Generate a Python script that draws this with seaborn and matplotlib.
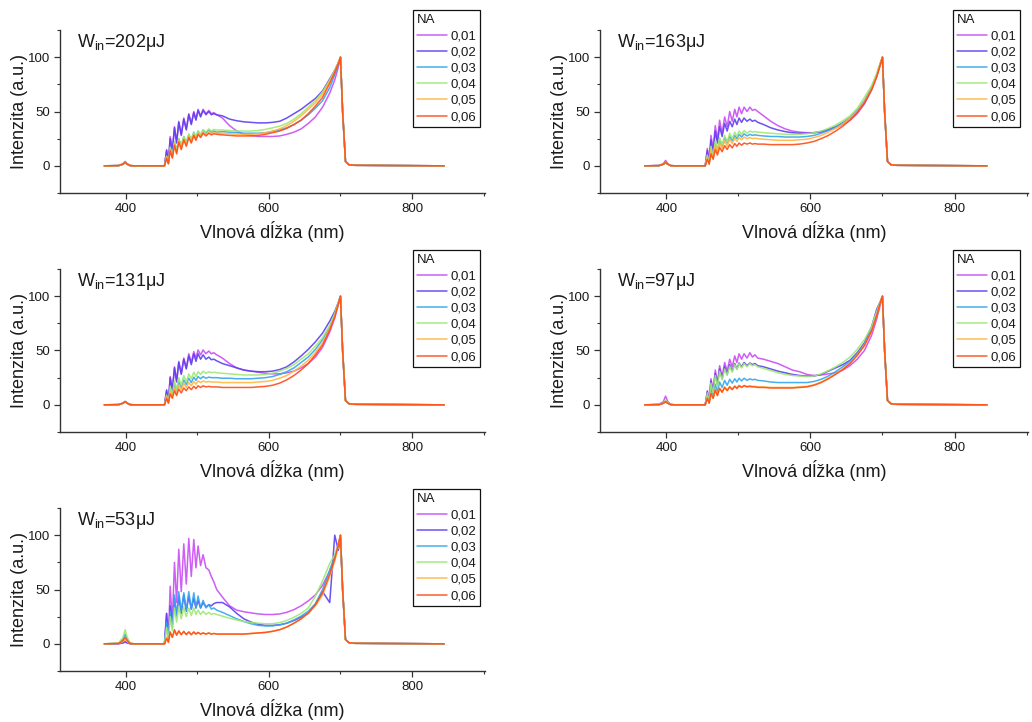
import matplotlib
matplotlib.use("Agg")
import matplotlib.pyplot as plt
import pandas as pd
import seaborn as sns

# Shared wavelength grid (nm)
WAVELENGTH = [370, 390, 396, 399, 402, 406, 412,
              454, 457, 459.5, 462, 465, 468, 471, 474, 477.5, 481, 484.5, 488,
              491.5, 495, 498, 501, 504.5, 508, 512, 516, 519.5, 523, 527,
              535, 545, 555, 565, 575, 585, 595, 605, 615, 625, 635, 645, 655,
              665, 675, 685, 692, 697, 700, 703, 707, 712, 720, 845]

NA_LABELS = ["0,01", "0,02", "0,03", "0,04", "0,05", "0,06"]
NA_COLORS = ["#c94cf5", "#5b3ff0", "#33a6ee", "#9fe872", "#ffb640", "#ff4b17"]
PULSE_ENERGY = ["202", "163", "131", "97", "53"]

# Normalised spectra, one row per NA value
SPEC_202 = [
    [0, 0.3, 2, 4, 2, 0.3, 0, 0, 15, 4, 27, 15, 36, 22, 41, 29, 44, 34, 48, 39, 50, 43, 52, 46, 52, 48, 51, 48, 49, 47,
     44, 37, 32, 29, 28, 27, 27, 27, 27.5, 29, 31, 34, 39, 45, 54, 67, 79, 91, 100, 50, 4, 1, 0.5, 0],
    [0, 0.2, 1.5, 3, 1.5, 0.2, 0, 0, 14, 3, 25, 13, 35, 21, 40, 28, 43, 33, 47, 38, 49, 42, 51, 45, 51, 47, 50, 47, 48, 47,
     46, 43, 41.5, 40.5, 40, 39.5, 39.5, 40, 41, 44, 48, 52, 57, 62, 69, 80, 88, 95, 100, 50, 4, 1, 0.5, 0],
    [0, 0.2, 1.5, 3, 1.5, 0.2, 0, 0, 9, 2, 17, 9, 22, 14, 25, 18, 27, 21, 29, 24, 31, 26, 32, 28, 33, 30, 33, 31, 32, 31,
     31.5, 31, 30.5, 30, 30, 30, 30.5, 31.5, 33, 35, 38, 42, 47, 53, 60, 72, 84, 93, 100, 50, 4, 1, 0.5, 0],
    [0, 0.2, 1.5, 3, 1.5, 0.2, 0, 0, 9, 2, 17, 9, 22, 14, 25, 18, 27, 21, 29, 24, 31, 27, 32, 29, 33, 31, 34, 32, 33.5, 33,
     33, 32.5, 32, 32, 32, 32.5, 33.5, 35, 36.5, 39, 43, 48, 54, 60, 68, 79, 88, 95, 100, 50, 4, 1, 0.5, 0],
    [0, 0.2, 1.5, 3, 1.5, 0.2, 0, 0, 8, 2, 15, 8, 20, 12, 23, 16, 25, 19, 27, 22, 29, 24, 30, 27, 31, 28.5, 31, 29.5, 30.5, 30,
     30, 29.5, 29, 29, 29, 29.5, 30.5, 32, 34, 37, 41, 46, 52, 58, 66, 78, 87, 95, 100, 50, 4, 1, 0.5, 0],
    [0, 0.2, 1.5, 3, 1.5, 0.2, 0, 0, 7, 2, 14, 7, 19, 11, 22, 15, 24, 18, 26, 21, 28, 23.5, 29, 26, 30, 27.5, 30, 28.5, 29.5, 29,
     28.5, 28, 27.5, 27.5, 27.5, 28, 29, 30.5, 32, 34.5, 38, 42, 48, 55, 63, 76, 86, 94, 100, 50, 4, 1, 0.5, 0],
]

SPEC_163 = [
    [0, 0.3, 2, 5, 2, 0.3, 0, 0, 16, 4, 28, 16, 37, 24, 42, 30, 45, 36, 50, 41, 52, 45, 54, 48, 54, 50, 54, 51, 52, 50,
     46, 41, 37, 34, 32, 31, 30.5, 30.5, 31, 33, 35, 38, 42, 48, 57, 70, 82, 93, 100, 50, 4, 1, 0.5, 0],
    [0, 0.2, 1.5, 3, 1.5, 0.2, 0, 0, 14, 3, 24, 12, 32, 21, 36, 27, 39, 32, 41, 36, 43, 38, 44, 40, 44, 41, 43, 41, 42, 40,
     38, 35, 33, 31.5, 30.5, 30, 30, 30.5, 31.5, 33.5, 36, 39.5, 44, 50, 58, 71, 83, 94, 100, 50, 4, 1, 0.5, 0],
    [0, 0.2, 1.5, 3, 1.5, 0.2, 0, 0, 9, 2, 16, 8, 21, 14, 24, 18, 26, 21, 27, 23, 28, 25, 29, 26.5, 29.5, 27.5, 29, 28, 28.5, 28,
     27.5, 27, 27, 26.5, 26.5, 26.5, 27, 28, 30, 32.5, 35.5, 39.5, 44.5, 51, 60, 72, 84, 94, 100, 50, 4, 1, 0.5, 0],
    [0, 0.2, 1.5, 3, 1.5, 0.2, 0, 0, 10, 2, 18, 9, 23, 15, 26, 19, 28, 22, 30, 25, 31, 27, 32, 29, 32.5, 30, 32, 31, 31.5, 31,
     30.5, 30, 29.5, 29, 29, 29, 29.5, 30.5, 32, 34.5, 37.5, 41.5, 46, 53, 63, 74, 85, 95, 100, 50, 4, 1, 0.5, 0],
    [0, 0.2, 1.5, 3, 1.5, 0.2, 0, 0, 8, 2, 14, 7, 19, 12, 21, 16, 23, 18, 24.5, 20.5, 25.5, 22.5, 26, 24, 26.5, 25, 26, 25, 25.5, 25,
     24.5, 24, 23.5, 23.5, 23.5, 24, 24.5, 26, 28, 31, 34.5, 38.5, 44, 50, 59, 71, 83, 94, 100, 50, 4, 1, 0.5, 0],
    [0, 0.2, 1.5, 3, 1.5, 0.2, 0, 0, 6, 1.5, 11, 6, 15, 10, 17, 13, 18.5, 15, 19.5, 16.5, 20.5, 18, 21, 19, 21, 20, 21, 20, 20.5, 20,
     20, 19.5, 19.5, 19.5, 19.5, 20, 21, 22.5, 25, 28, 32, 36.5, 42, 49, 58, 70, 82, 93, 100, 50, 4, 1, 0.5, 0],
]

SPEC_131 = [
    [0, 0.2, 1.5, 3, 1.5, 0.2, 0, 0, 14, 3, 26, 14, 35, 22, 40, 29, 43, 34, 47, 39, 49, 43, 50.5, 46, 50.5, 47, 49.5, 47, 48, 46,
     43, 38, 34, 32, 31, 30, 29, 28.5, 28.5, 29.5, 31, 34, 38, 44, 53, 67, 80, 92, 100, 50, 4, 1, 0.5, 0],
    [0, 0.2, 1.5, 3, 1.5, 0.2, 0, 0, 13, 3, 25, 13, 34, 21, 39, 28, 42, 33, 45, 37, 47, 40, 47, 42, 46, 42, 44, 41.5, 42, 40.5,
     38, 36, 34, 32, 31, 30.5, 30.5, 31, 32.5, 35, 39.5, 45, 51, 58, 66, 77, 86, 94, 100, 50, 4, 1, 0.5, 0],
    [0, 0.2, 1.5, 3, 1.5, 0.2, 0, 0, 8, 2, 14, 8, 19, 12, 21.5, 16, 23, 18.5, 24.5, 20.5, 25.5, 22.5, 26, 24, 26, 24.5, 25.5, 25, 25, 25,
     24.5, 24.5, 24, 24, 24, 24.5, 25, 26, 28, 30.5, 34, 39, 44, 51, 60, 72, 84, 94, 100, 50, 4, 1, 0.5, 0],
    [0, 0.2, 1.5, 3, 1.5, 0.2, 0, 0, 9, 2, 17, 9, 22, 14, 25, 18, 27, 21, 28.5, 24, 30, 26, 30.5, 28, 31, 29, 30.5, 29.5, 30, 29.5,
     29, 28.5, 28, 27.5, 27.5, 27.5, 28, 29, 31, 33.5, 37, 42, 47, 54, 62, 73, 84, 94, 100, 50, 4, 1, 0.5, 0],
    [0, 0.2, 1.5, 3, 1.5, 0.2, 0, 0, 7, 2, 12, 7, 16, 10, 18, 14, 19.5, 16, 20.5, 17.5, 21.5, 19, 22, 20.5, 22, 21, 21.5, 21, 21, 21,
     20.5, 20.5, 20.5, 20.5, 20.5, 21, 21.5, 22.5, 24.5, 27, 31, 35.5, 41, 48, 57, 70, 82, 93, 100, 50, 4, 1, 0.5, 0],
    [0, 0.2, 1.5, 3, 1.5, 0.2, 0, 0, 6, 1.5, 10, 6, 13, 8.5, 14.5, 11, 15.5, 13, 16.5, 14, 17, 15, 17.5, 16, 17.5, 16.5, 17, 16.5, 16.5, 16.5,
     16, 16, 16, 16, 16, 16.5, 17, 18, 20, 23, 27, 32, 38, 46, 55, 69, 81, 93, 100, 50, 4, 1, 0.5, 0],
]

SPEC_97 = [
    [0, 0.5, 3, 8, 3, 0.5, 0, 0, 13, 3, 24, 13, 32, 20, 36, 26, 39, 31, 42, 35, 45, 39, 47, 42, 47, 43, 48, 44, 46, 43,
     42, 40, 38, 35, 32, 30.5, 28, 27, 27.5, 28.5, 29.5, 32, 36, 42, 50, 64, 79, 92, 100, 50, 4, 1, 0.5, 0],
    [0, 0.2, 1.5, 3, 1.5, 0.2, 0, 0, 12, 3, 22, 12, 29, 19, 33, 24, 35, 28, 37, 31, 38, 33, 38.5, 35, 39, 36, 38.5, 37, 38, 36,
     35, 33, 31, 29.5, 28, 27, 26.5, 26.5, 28, 31, 34, 37, 41, 48, 57, 72, 88, 95, 100, 50, 4, 1, 0.5, 0],
    [0, 0.2, 1.5, 3, 1.5, 0.2, 0, 0, 8, 2, 15, 8, 19, 12, 21, 16, 22.5, 18, 23.5, 20, 24, 21, 24.5, 22, 24.5, 22.5, 24, 23, 23.5, 22.5,
     22, 21, 20.5, 20.5, 20.5, 20.5, 20.5, 21.5, 23.5, 26.5, 30.5, 35, 40, 47, 56, 69, 83, 94, 100, 50, 4, 1, 0.5, 0],
    [0, 0.3, 2, 4, 2, 0.3, 0, 0, 11, 2.5, 20, 11, 27, 17, 31, 23, 33, 27, 35.5, 30, 37, 32.5, 38, 34, 38, 35, 38, 36, 37, 35,
     33.5, 31.5, 29.5, 28, 27, 26.5, 26, 26.5, 28.5, 31.5, 35, 39, 44, 51, 60, 72, 86, 95, 100, 50, 4, 1, 0.5, 0],
    [0, 0.2, 1.5, 3, 1.5, 0.2, 0, 0, 6, 1.5, 11, 6, 14, 9, 15.5, 12, 16.5, 13.5, 17, 14.5, 17.5, 15.5, 18, 16.5, 18, 17, 17.5, 17, 17, 16.5,
     16.5, 16, 16, 16, 16, 16.5, 17, 18.5, 21, 24.5, 28.5, 33, 38.5, 46, 55, 68, 82, 94, 100, 50, 4, 1, 0.5, 0],
    [0, 0.2, 1.5, 3, 1.5, 0.2, 0, 0, 6, 1.5, 10.5, 6, 13.5, 8.5, 15, 11.5, 16, 13, 16.5, 14, 17, 15, 17.5, 16, 17.5, 16.5, 17, 16.5, 16.5, 16,
     16, 15.5, 15.5, 15.5, 15.5, 16, 16.5, 18, 20.5, 24, 28, 32.5, 38, 45.5, 54.5, 68, 82, 94, 100, 50, 4, 1, 0.5, 0],
]

SPEC_53 = [
    [0, 0.1, 0.8, 1.5, 0.8, 0.1, 0, 0, 28, 5, 53, 20, 75, 38, 87, 48, 92, 55, 97, 62, 96, 70, 90, 72, 82, 70, 68, 62, 57, 50,
     43, 35, 31, 29.5, 28.5, 27.5, 27, 27, 27.5, 29, 31.5, 35, 39.5, 45, 54, 67, 80, 92, 100, 50, 4, 1, 0.5, 0],
    [0, 0.1, 1, 2, 1, 0.1, 0, 0, 28, 4, 35, 18, 42, 25, 44, 28, 45, 30, 44, 32, 42, 33, 40, 33, 38, 34, 36, 35, 37, 38,
     38, 34, 28, 23, 20, 18, 17, 17, 17.5, 19, 21.5, 24.5, 28, 36, 48, 38, 100, 86, 97, 50, 4, 1, 0.5, 0],
    [0, 0.5, 4, 9, 4, 0.5, 0, 0, 20, 3, 30, 15, 45, 25, 48, 30, 47, 31, 48, 32, 47, 33, 44, 33, 40, 33, 36, 32, 33, 31,
     29, 26, 23, 20.5, 18.5, 17, 16.5, 16.5, 17.5, 19, 22, 25.5, 30, 37, 50, 68, 80, 90, 100, 50, 4, 1, 0.5, 0],
    [0, 0.8, 6, 13, 6, 0.8, 0, 0, 15, 2, 25, 12, 33, 20, 34, 23, 34, 25, 33, 26, 33, 27, 31, 27, 30, 27, 29, 27, 28, 27,
     25.5, 23.5, 22, 20.5, 19.5, 19, 18.5, 18.5, 19.5, 21.5, 24.5, 28, 33, 44, 58, 74, 82, 92, 100, 50, 4, 1, 0.5, 0],
    [0, 0.3, 2, 4, 2, 0.3, 0, 0, 6, 1.5, 10, 6, 12, 8, 11.5, 8.5, 11, 8.5, 11, 8.5, 10.5, 9, 10.5, 9, 10, 9, 10, 9, 9.5, 9,
     9, 9, 9, 9, 9.5, 10, 10.5, 11.5, 13, 15.5, 19, 23, 28, 35, 45, 62, 76, 90, 100, 50, 4, 1, 0.5, 0],
    [0, 0.4, 3, 6, 3, 0.4, 0, 0, 5, 1.5, 11, 6, 13, 8, 12, 8.5, 11.5, 8.5, 11, 8.5, 11, 9, 10.5, 9, 10, 9, 10, 9, 9.5, 9,
     9, 9, 9, 9, 9.5, 10, 10.5, 11.5, 13, 15.5, 19, 23, 28.5, 36, 47, 64, 78, 91, 100, 50, 4, 1, 0.5, 0],
]

PANELS = [SPEC_202, SPEC_163, SPEC_131, SPEC_97, SPEC_53]

sns.set_theme(style="ticks")
plt.rcParams["font.family"] = ["Liberation Sans", "DejaVu Sans"]
plt.rcParams["mathtext.fontset"] = "custom"
plt.rcParams["mathtext.rm"] = "Liberation Sans"
plt.rcParams["mathtext.it"] = "Liberation Sans:italic"

W, H = 1032, 722
fig = plt.figure(figsize=(W / 100, H / 100), dpi=100)

# axes boxes in pixels: left, top, width, height
BOXES = [(60, 30, 425, 163), (600, 30, 428, 163),
         (60, 269, 425, 163), (600, 269, 428, 163),
         (60, 508, 425, 163)]
LEGEND_CORNERS = [(413, 10), (953, 10), (413, 250), (953, 250), (413, 489)]

AX_COLOR = "#333333"
TXT_COLOR = "#1a1a1a"

for spectra, energy, (lx, ty, w, h), (gx, gy) in zip(PANELS, PULSE_ENERGY, BOXES, LEGEND_CORNERS):
    ax = fig.add_axes([lx / W, 1 - (ty + h) / H, w / W, h / H])
    for label, color, values in zip(NA_LABELS, NA_COLORS, spectra):
        df = pd.DataFrame({"wl": WAVELENGTH, "I": values})
        sns.lineplot(data=df, x="wl", y="I", color=color, lw=1.1, alpha=0.9,
                     estimator=None, sort=False, label=label, ax=ax)

    ax.set_xlim(308, 902)
    ax.set_ylim(-25, 125)
    ax.set_xticks([400, 600, 800])
    ax.set_xticks([500, 700, 900], minor=True)
    ax.set_yticks([0, 50, 100])
    ax.set_yticks([-25, 25, 75, 125], minor=True)
    sns.despine(ax=ax)
    for s in ("left", "bottom"):
        ax.spines[s].set_color(AX_COLOR)
        ax.spines[s].set_linewidth(1.0)
    ax.tick_params(which="major", direction="out", length=4, width=0.9,
                   color=AX_COLOR, labelsize=9.5, labelcolor=TXT_COLOR, pad=3)
    ax.tick_params(which="minor", direction="out", length=2.5, width=0.8, color=AX_COLOR)

    ax.set_xlabel("Vlnová dĺžka (nm)", fontsize=13, color=TXT_COLOR)
    ax.set_ylabel("Intenzita (a.u.)", fontsize=13, color=TXT_COLOR)
    ax.xaxis.set_label_coords(0.5, -0.172)
    ax.yaxis.set_label_coords(-0.075, 0.5)

    ax.text(0.04, 0.925, r"W$_{\mathrm{in}}$=" + energy + "μJ", transform=ax.transAxes,
            fontsize=13, color=TXT_COLOR, ha="left", va="center")

    leg = ax.legend(title="NA", loc="upper left",
                    bbox_to_anchor=(gx / W, 1 - gy / H), bbox_transform=fig.transFigure,
                    borderaxespad=0, fontsize=9.5, title_fontsize=9.5, alignment="left",
                    handlelength=2.3, handletextpad=0.25, labelspacing=0.3,
                    borderpad=0.3, fancybox=False, framealpha=1, frameon=True)
    leg.get_frame().set_edgecolor("#111111")
    leg.get_frame().set_linewidth(0.9)
    for t in leg.get_texts():
        t.set_color(TXT_COLOR)
    leg.get_title().set_color(TXT_COLOR)

fig.savefig("out.png", dpi=100, facecolor="white")
